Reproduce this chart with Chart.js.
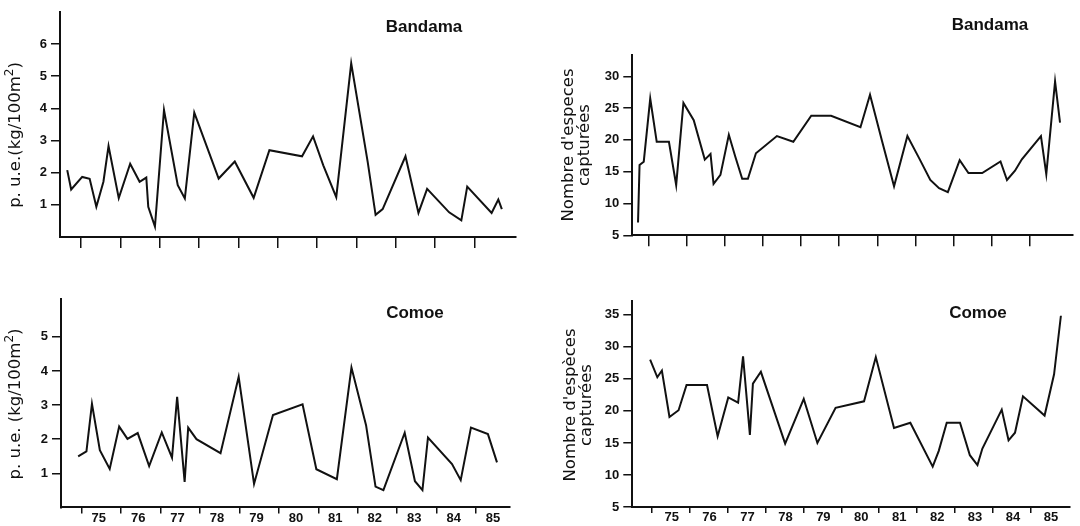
<!DOCTYPE html>
<html>
<head>
<meta charset="utf-8">
<script src="https://cdn.jsdelivr.net/npm/chart.js@4.4.0/dist/chart.umd.min.js"></script>
<style>
  html, body { margin: 0; padding: 0; background: #fff; }
  #fig { position: relative; width: 1080px; height: 526px; overflow: hidden; }
  #fig canvas { position: absolute; }
</style>
</head>
<body>
<div id="fig">
  <canvas id="tl" width="540" height="262" style="left:0;top:0"></canvas>
  <canvas id="tr" width="540" height="262" style="left:540px;top:0"></canvas>
  <canvas id="bl" width="540" height="264" style="left:0;top:262px"></canvas>
  <canvas id="br" width="540" height="264" style="left:540px;top:262px"></canvas>
</div>
<script>
// year boundaries on the time axis and their labels
const years = [1975, 1976, 1977, 1978, 1979, 1980, 1981, 1982, 1983, 1984, 1985];
const yearLabels = ['75', '76', '77', '78', '79', '80', '81', '82', '83', '84', '85'];

// p.u.e. Bandama (kg/100m2)
const bandamaCpueTime = [1974.65, 1974.75, 1975.03, 1975.22, 1975.39, 1975.57, 1975.70, 1975.96, 1976.25, 1976.49,
  1976.66, 1976.71, 1976.88, 1977.11, 1977.46, 1977.64, 1977.88, 1978.50, 1978.91, 1979.39,
  1979.79, 1980.62, 1980.90, 1981.16, 1981.49, 1981.87, 1982.29, 1982.49, 1982.67, 1983.25,
  1983.58, 1983.80, 1984.36, 1984.67, 1984.82, 1985.44, 1985.61, 1985.70];
const bandamaCpue = [2.08, 1.48, 1.87, 1.81, 0.94, 1.72, 2.83, 1.21, 2.28, 1.72,
  1.85, 0.94, 0.33, 3.95, 1.61, 1.2, 3.87, 1.82, 2.35, 1.22,
  2.7, 2.51, 3.13, 2.23, 1.24, 5.4, 2.33, 0.69, 0.87, 2.51,
  0.75, 1.5, 0.77, 0.52, 1.57, 0.75, 1.17, 0.87];

// p.u.e. Comoe (kg/100m2)
const comoeCpueTime = [1974.91, 1975.12, 1975.26, 1975.46, 1975.71, 1975.95, 1976.16, 1976.42, 1976.71, 1977.03,
  1977.29, 1977.42, 1977.61, 1977.70, 1977.91, 1978.52, 1978.98, 1979.37, 1979.85, 1980.60,
  1980.95, 1981.47, 1981.84, 1982.21, 1982.45, 1982.65, 1983.19, 1983.45, 1983.64, 1983.78,
  1984.39, 1984.61, 1984.87, 1985.30, 1985.53];
const comoeCpue = [1.5, 1.64, 3.04, 1.68, 1.13, 2.37, 2.01, 2.18, 1.21, 2.2,
  1.46, 3.24, 0.75, 2.34, 2.0, 1.59, 3.83, 0.69, 2.71, 3.02,
  1.12, 0.83, 4.1, 2.41, 0.61, 0.51, 2.19, 0.77, 0.51, 2.05,
  1.27, 0.8, 2.34, 2.15, 1.32];

// nombre d'especes capturees, Bandama
const bandamaSpeciesTime = [1974.73, 1974.77, 1974.88, 1975.05, 1975.22, 1975.54, 1975.73, 1975.92, 1976.19, 1976.48,
  1976.63, 1976.71, 1976.89, 1977.11, 1977.28, 1977.46, 1977.61, 1977.82, 1978.37, 1978.80,
  1979.27, 1979.79, 1980.56, 1980.81, 1981.13, 1981.44, 1981.79, 1982.10, 1982.39, 1982.62,
  1982.85, 1983.16, 1983.39, 1983.75, 1984.23, 1984.40, 1984.61, 1984.79, 1985.29, 1985.43,
  1985.66, 1985.79];
const bandamaSpecies = [7.0, 16.05, 16.57, 26.5, 19.7, 19.7, 12.9, 25.8, 23.1, 16.9,
  17.8, 13.1, 14.5, 20.8, 17.35, 13.9, 13.9, 17.9, 20.6, 19.7,
  23.8, 23.8, 22.0, 27.1, 19.7, 12.7, 20.6, 17.1, 13.7, 12.4,
  11.8, 16.8, 14.8, 14.8, 16.6, 13.7, 15.15, 16.95, 20.6, 14.6,
  29.2, 22.7];

// nombre d'especes capturees, Comoe
const comoeSpeciesTime = [1974.96, 1975.15, 1975.27, 1975.47, 1975.71, 1975.92, 1976.46, 1976.74, 1977.02, 1977.28,
  1977.41, 1977.59, 1977.67, 1977.88, 1978.52, 1979.01, 1979.37, 1979.85, 1980.60, 1980.91,
  1981.39, 1981.82, 1982.41, 1982.57, 1982.78, 1983.13, 1983.39, 1983.59, 1983.72, 1984.23,
  1984.41, 1984.58, 1984.79, 1985.36, 1985.61, 1985.79];
const comoeSpecies = [28.0, 25.25, 26.3, 19.05, 20.1, 24.05, 24.05, 16.05, 22.1, 21.3,
  28.5, 16.25, 24.25, 26.1, 14.9, 21.86, 15.0, 20.47, 21.5, 28.4,
  17.33, 18.15, 11.3, 13.77, 18.15, 18.15, 13.09, 11.55, 14.13, 20.2,
  15.41, 16.6, 22.28, 19.28, 25.72, 34.85];

// y tick values
const cpueTicksBandama = [1, 2, 3, 4, 5, 6];
const cpueTicksComoe = [1, 2, 3, 4, 5];
const speciesTicksBandama = [5, 10, 15, 20, 25, 30];
const speciesTicksComoe = [5, 10, 15, 20, 25, 30, 35];

const INK = '#111111';
const SANS = "'Liberation Sans', Arial, sans-serif";
const TITLE_FONT = "16.5px 'DejaVu Sans', sans-serif";
const SUP_FONT = "12px 'DejaVu Sans', sans-serif";
Chart.defaults.color = INK;
Chart.defaults.font.family = SANS;

// one rotated title line; a '²' is drawn as a raised, larger 2
function titleLine(ctx, line, y) {
  const parts = line.split('²');
  if (parts.length === 1) {
    ctx.textAlign = 'center';
    ctx.fillText(line, 0, y);
    return;
  }
  ctx.font = TITLE_FONT;
  const w0 = ctx.measureText(parts[0]).width;
  const w2 = ctx.measureText(parts[1]).width;
  ctx.font = SUP_FONT;
  const w1 = ctx.measureText('2').width;
  let x = -(w0 + w1 + w2) / 2;
  ctx.textAlign = 'left';
  ctx.font = TITLE_FONT;
  ctx.fillText(parts[0], x, y);
  x += w0;
  ctx.font = SUP_FONT;
  ctx.fillText('2', x, y - 6);
  x += w1;
  ctx.font = TITLE_FONT;
  ctx.fillText(parts[1], x, y);
}

// river name and rotated y title, drawn as text
const panelText = {
  id: 'panelText',
  afterDraw(chart, args, o) {
    const ctx = chart.ctx;
    ctx.save();
    ctx.fillStyle = INK;
    ctx.textAlign = 'center';
    ctx.textBaseline = 'middle';
    ctx.font = 'bold 17px ' + SANS;
    ctx.fillText(o.label, o.labelAt[0], o.labelAt[1]);
    ctx.translate(o.titleAt[0], o.titleAt[1]);
    ctx.rotate(-Math.PI / 2);
    ctx.font = TITLE_FONT;
    o.title.forEach((line, i) => titleLine(ctx, line, i * 16));
    ctx.restore();
  }
};

function makePanel(id, c) {
  return new Chart(document.getElementById(id), {
    type: 'line',
    data: {
      datasets: [{
        data: c.t.map((t, i) => ({ x: t, y: c.v[i] })),
        borderColor: INK,
        borderWidth: 2,
        pointRadius: 0,
        tension: 0,
        fill: false
      }]
    },
    options: {
      responsive: false,
      animation: false,
      events: [],
      layout: { padding: { top: c.padTop, right: c.padRight, left: 0, bottom: 0 } },
      plugins: {
        legend: { display: false },
        tooltip: { enabled: false },
        panelText: { label: c.label, labelAt: c.labelAt, title: c.title, titleAt: c.titleAt }
      },
      scales: {
        x: {
          type: 'linear',
          min: c.xMin,
          max: c.xMax,
          afterBuildTicks: s => { s.ticks = years.map(v => ({ value: v })); },
          afterFit: s => { s.height = c.xHeight; },
          border: { display: true, color: INK, width: 2 },
          grid: { drawOnChartArea: false, drawTicks: true, tickLength: c.xTick, color: INK, lineWidth: 1.5 },
          ticks: {
            autoSkip: false,
            maxRotation: 0,
            labelOffset: c.labelOffset || 0,
            padding: -3,
            font: { size: 13, weight: 'bold' },
            callback: (v, i) => c.showYears ? yearLabels[i] : ''
          }
        },
        y: {
          min: c.yMin,
          max: c.yMax,
          afterBuildTicks: s => { s.ticks = c.yTicks.map(v => ({ value: v })); },
          afterFit: s => { s.width = c.yWidth; },
          border: { display: true, color: INK, width: 2 },
          grid: { drawOnChartArea: false, drawTicks: true, tickLength: 9, color: INK, lineWidth: 1.5 },
          ticks: { padding: 4, font: { size: 13, weight: 'bold' }, callback: v => String(v) }
        }
      }
    },
    plugins: [panelText]
  });
}

makePanel('tl', {
  t: bandamaCpueTime, v: bandamaCpue,
  xMin: 1974.466, xMax: 1986.06, yMin: 0, yMax: 7, yTicks: cpueTicksBandama,
  padTop: 5.2, padRight: 24, xHeight: 24.9, yWidth: 60, xTick: 11, showYears: false,
  label: 'Bandama', labelAt: [424, 27],
  title: ['p. u.e.(kg/100m²)'], titleAt: [16, 135]
});

makePanel('tr', {
  t: bandamaSpeciesTime, v: bandamaSpecies,
  xMin: 1974.58, xMax: 1986.13, yMin: 5, yMax: 33.35, yTicks: speciesTicksBandama,
  padTop: 55, padRight: 7, xHeight: 26.7, yWidth: 92.3, xTick: 11, showYears: false,
  label: 'Bandama', labelAt: [450, 25],
  title: ["Nombre d'especes", 'capturées'], titleAt: [28.4, 145]
});

makePanel('bl', {
  t: comoeCpueTime, v: comoeCpue,
  xMin: 1974.475, xMax: 1985.86, yMin: 0, yMax: 6.1, yTicks: cpueTicksComoe,
  padTop: 37.3, padRight: 30, xHeight: 18.55, yWidth: 61, xTick: 6, showYears: true, labelOffset: 17,
  label: 'Comoe', labelAt: [415, 51],
  title: ['p. u.e. (kg/100m²)'], titleAt: [16, 142]
});

makePanel('br', {
  t: comoeSpeciesTime, v: comoeSpecies,
  xMin: 1974.49, xMax: 1986.03, yMin: 5, yMax: 37.2, yTicks: speciesTicksComoe,
  padTop: 38.7, padRight: 10, xHeight: 19, yWidth: 92.3, xTick: 6, showYears: true, labelOffset: 20,
  label: 'Comoe', labelAt: [438, 51],
  title: ["Nombre d'espèces", 'capturées'], titleAt: [31.2, 143]
});
</script>
</body>
</html>
